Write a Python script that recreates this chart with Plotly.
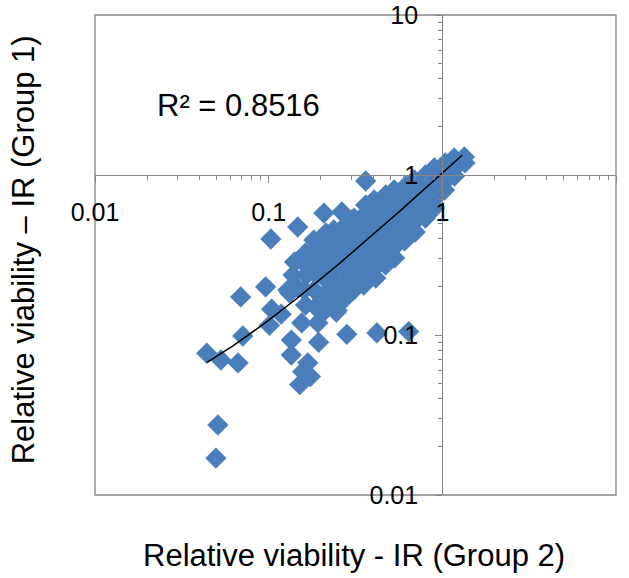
import numpy as np
import plotly.graph_objects as go

# Relative viability - IR (Group 2)  (x) and Group 1 (y)
group2 = [
    0.0497, 0.0510, 0.044, 0.0531, 0.0666, 0.071, 0.069, 0.096, 0.103, 0.147,
    0.101, 0.104, 0.118, 0.132, 0.147, 0.135, 0.135, 0.168, 0.157, 0.174,
    0.151, 0.155, 0.192, 0.194, 0.282, 0.420, 0.640, 0.362, 0.208, 0.264,
    0.129, 0.248,
    0.141, 0.138,
    0.163, 0.159, 0.165, 0.160, 0.163,
    0.182, 0.187, 0.181, 0.188, 0.183, 0.186,
    0.214, 0.208, 0.213, 0.207, 0.215, 0.209, 0.212,
    0.237, 0.243, 0.238, 0.244, 0.236, 0.242, 0.239, 0.245,
    0.278, 0.271, 0.277, 0.272, 0.279, 0.273, 0.276,
    0.310, 0.317, 0.311, 0.318, 0.312, 0.316, 0.309,
    0.362, 0.354, 0.360, 0.355, 0.363, 0.356, 0.361, 0.353,
    0.405, 0.413, 0.406, 0.412, 0.404, 0.411, 0.407, 0.414,
    0.472, 0.463, 0.470, 0.462, 0.469, 0.464, 0.471,
    0.528, 0.538, 0.530, 0.537, 0.529, 0.536, 0.531,
    0.615, 0.604, 0.612, 0.603, 0.614, 0.606,
    0.689, 0.700, 0.692, 0.701, 0.690, 0.698,
    0.800, 0.788, 0.797, 0.790, 0.799,
    0.899, 0.912, 0.903, 0.910, 0.900,
    1.040, 1.027, 1.038, 1.029,
    1.17, 1.19, 1.175,
    1.34, 1.35,
]
group1 = [
    0.0170, 0.0274, 0.077, 0.0698, 0.0669, 0.0986, 0.173, 0.200, 0.398, 0.473,
    0.115, 0.145, 0.135, 0.183, 0.197, 0.093, 0.075, 0.067, 0.059, 0.055,
    0.049, 0.119, 0.119, 0.090, 0.101, 0.103, 0.105, 0.917, 0.578, 0.587,
    0.191, 0.143,
    0.286, 0.237,
    0.325, 0.282, 0.237, 0.191, 0.154,
    0.392, 0.340, 0.286, 0.237, 0.191, 0.150,
    0.434, 0.365, 0.307, 0.262, 0.221, 0.178, 0.143,
    0.453, 0.392, 0.330, 0.282, 0.237, 0.197, 0.166, 0.139,
    0.487, 0.416, 0.350, 0.294, 0.248, 0.205, 0.170,
    0.538, 0.453, 0.381, 0.321, 0.270, 0.227, 0.191,
    0.649, 0.562, 0.473, 0.404, 0.340, 0.286, 0.237, 0.205,
    0.698, 0.604, 0.523, 0.440, 0.370, 0.312, 0.262, 0.227,
    0.750, 0.649, 0.554, 0.466, 0.392, 0.330, 0.274,
    0.806, 0.698, 0.604, 0.508, 0.428, 0.360, 0.303,
    0.854, 0.739, 0.640, 0.546, 0.460, 0.387,
    0.931, 0.806, 0.698, 0.596, 0.508, 0.440,
    1.000, 0.866, 0.750, 0.640, 0.538,
    1.106, 0.958, 0.829, 0.718, 0.622,
    1.189, 1.044, 0.917, 0.806,
    1.277, 1.122, 0.986,
    1.296, 1.189,
]
tick_values = [0.01, 0.1, 1, 10]
tick_labels = ["0.01", "0.1", "1", "10"]
r2_label = "R² = 0.8516"

# Linear trendline (y = a*x + b) as shown in the chart, spanning the data range
trend_slope = 1.005
trend_intercept = 0.023
trend_x_range = [0.044, 1.30]

x = np.array(group2)
y = np.array(group1)
xt = np.geomspace(trend_x_range[0], trend_x_range[1], 200)
yt = trend_slope * xt + trend_intercept

AX = "#868686"
FONT = "Liberation Sans, Arial, sans-serif"

fig = go.Figure()
fig.add_trace(go.Scatter(
    x=x, y=y, mode="markers",
    marker=dict(symbol="diamond", size=16, color="#4A7EBB",
                line=dict(width=0.5, color="#4A7EBB")),
    showlegend=False, hoverinfo="skip"))
fig.add_trace(go.Scatter(
    x=xt, y=yt, mode="lines", line=dict(color="black", width=1.5),
    showlegend=False, hoverinfo="skip"))

axis_common = dict(
    type="log", showgrid=False, zeroline=False, showline=True, automargin=False,
    linecolor=AX, linewidth=1.3, ticks="outside", ticklen=7, tickwidth=1.3,
    tickcolor=AX, tickmode="array", tickvals=tick_values, ticktext=tick_labels,
    tickfont=dict(family=FONT, size=25, color="black"),
    minor=dict(ticks="outside", ticklen=4, tickwidth=1.3, tickcolor=AX,
               dtick="D1", showgrid=False),
    anchor="free", position=2 / 3,
)
fig.update_layout(
    width=629, height=578,
    margin=dict(l=95, r=13, t=15, b=83, autoexpand=False),
    paper_bgcolor="white", plot_bgcolor="white",
    xaxis=dict(range=[-2, 1], side="bottom", ticklabelstandoff=8, **axis_common),
    yaxis=dict(range=[-2, 1], side="left", ticklabelstandoff=12, **axis_common),
    shapes=[dict(type="rect", xref="paper", yref="paper", x0=0, x1=1, y0=0, y1=1,
                 line=dict(color=AX, width=1.3), layer="below")],
    annotations=[
        dict(text="Relative viability - IR (Group 2)", xref="paper", yref="paper",
             x=0.497, y=-0.125, showarrow=False, xanchor="center", yanchor="middle",
             font=dict(family=FONT, size=31, color="black")),
        dict(text="Relative viability – IR (Group 1)", xref="paper", yref="paper",
             x=-0.138, y=0.51, showarrow=False, textangle=-90,
             xanchor="center", yanchor="middle",
             font=dict(family=FONT, size=31, color="black")),
        dict(text=r2_label, xref="paper", yref="paper",
             x=0.115, y=0.8125, showarrow=False, xanchor="left", yanchor="middle",
             font=dict(family=FONT, size=31, color="black")),
    ],
)
fig.write_html("out.html")
